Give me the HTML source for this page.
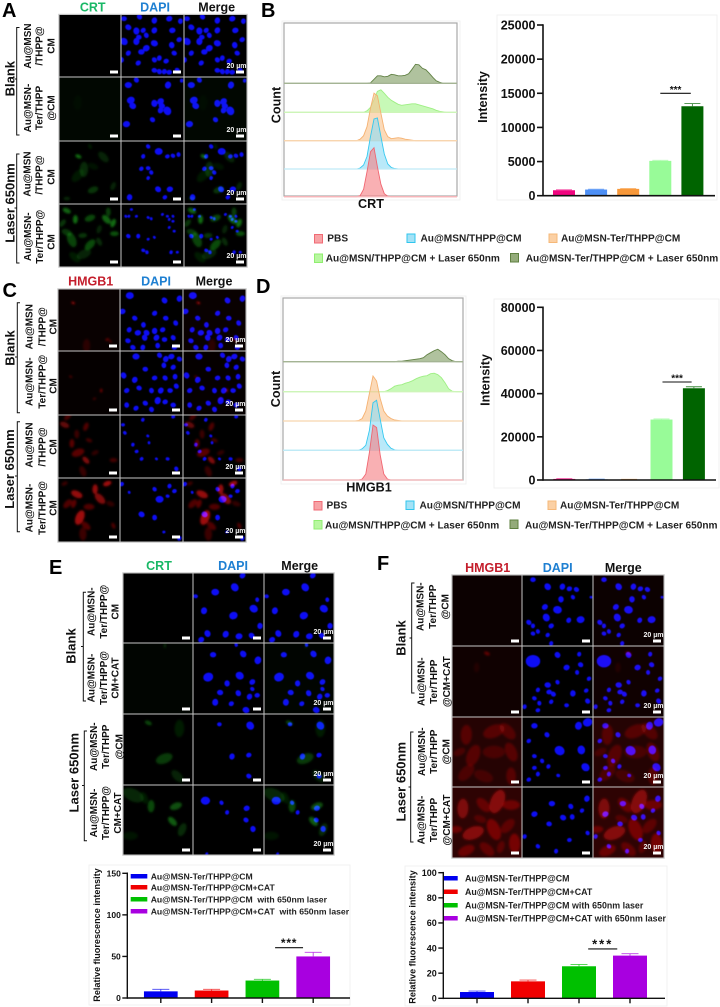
<!DOCTYPE html>
<html lang="en">
<head>
<meta charset="utf-8">
<title>Immunofluorescence and flow cytometry figure</title>
<style>
html,body{margin:0;padding:0;background:#fff;}
#figure{display:block;width:720px;height:1007px;filter:blur(0.35px);}
text{font-family:"Liberation Sans",sans-serif;font-weight:bold;fill:#111;}
.letter{font-size:20px;fill:#000;}
.head{font-size:12.5px;text-anchor:middle;}
.green{fill:#19b866;}
.blue{fill:#1f80d2;}
.red{fill:#c41e2c;}
.side{font-size:13px;text-anchor:middle;}
.row{font-size:10px;text-anchor:middle;}
.axis-title{font-size:12.6px;text-anchor:middle;}
.leg{font-size:10.1px;fill:#222;}
.leg2{font-size:8.65px;fill:#222;}
.ylab{font-size:9.1px;text-anchor:middle;}
.br{fill:none;stroke:#111;stroke-width:1;}
.box{fill:none;stroke:#f1f1f1;stroke-width:1;}
</style>
</head>
<body>
<svg id="figure" xmlns="http://www.w3.org/2000/svg" width="720" height="1007" viewBox="0 0 720 1007">
<defs>
<filter id="softNuc" x="-10%" y="-10%" width="120%" height="120%"><feGaussianBlur stdDeviation="0.6"/></filter>
<filter id="softSig" x="-20%" y="-20%" width="140%" height="140%"><feGaussianBlur stdDeviation="1.1"/></filter>
</defs>
<rect x="0" y="0" width="720" height="1007" fill="#fff"/>

<g id="micrographs"></g>
<g id="charts"></g>

<!-- panel letters -->
<text class="letter" x="2" y="17">A</text>
<text class="letter" x="261" y="17">B</text>
<text class="letter" x="2.5" y="297">C</text>
<text class="letter" x="256" y="293">D</text>
<text class="letter" x="49" y="574">E</text>
<text class="letter" x="377" y="570">F</text>

<!-- column headers -->
<text class="head green" x="92.7" y="11.7">CRT</text>
<text class="head blue" x="155" y="11.7">DAPI</text>
<text class="head" x="216.7" y="11.7">Merge</text>
<text class="head red" x="90.7" y="285.7">HMGB1</text>
<text class="head blue" x="156" y="285.7">DAPI</text>
<text class="head" x="214" y="285.7">Merge</text>
<text class="head green" x="159" y="570">CRT</text>
<text class="head blue" x="233" y="570">DAPI</text>
<text class="head" x="299.7" y="570">Merge</text>
<text class="head red" x="487.7" y="572">HMGB1</text>
<text class="head blue" x="557.7" y="572">DAPI</text>
<text class="head" x="623.3" y="572">Merge</text>

<!-- group labels and brackets -->
<text class="side" transform="translate(10 78.7) rotate(-90)" dy=".35em">Blank</text>
<text class="side" transform="translate(10 203) rotate(-90)" dy=".35em">Laser 650nm</text>
<path class="br" d="M19.5 27.5H16.7V135H19.5M16.7 79H14.5"/>
<path class="br" d="M19.5 154H16.7V263H19.5M16.7 208H14.5"/>
<text class="side" transform="translate(10 348) rotate(-90)" dy=".35em">Blank</text>
<text class="side" transform="translate(9.3 469) rotate(-90)" dy=".35em">Laser 650nm</text>
<path class="br" d="M20 302.7H17.3V412.7H20M17.3 357H15"/>
<path class="br" d="M20 421.7H17.3V531.7H20M17.3 476H15"/>
<text class="side" transform="translate(70.7 646) rotate(-90)" dy=".35em">Blank</text>
<text class="side" transform="translate(74 772.7) rotate(-90)" dy=".35em">Laser 650nm</text>
<path class="br" d="M86 592.3H83.3V701H86M83.3 646.5H81"/>
<path class="br" d="M87 731H84.3V840.7H87M84.3 785.5H82"/>
<text class="side" transform="translate(401 638) rotate(-90)" dy=".35em">Blank</text>
<text class="side" transform="translate(400.7 781.7) rotate(-90)" dy=".35em">Laser 650nm</text>
<path class="br" d="M414.5 583H411.7V693H414.5M411.7 638H409.5"/>
<path class="br" d="M413.5 732H410.7V842H413.5M410.7 787H408.5"/>

<!-- row labels panel A -->
<g>
<text class="row" transform="translate(27.3 46) rotate(-90)" dy=".35em">Au@MSN</text>
<text class="row" transform="translate(39 46) rotate(-90)" dy=".35em">/THPP@</text>
<text class="row" transform="translate(51 46) rotate(-90)" dy=".35em">CM</text></g>
<g>
<text class="row" transform="translate(27.3 108) rotate(-90)" dy=".35em">Au@MSN-</text>
<text class="row" transform="translate(39 108) rotate(-90)" dy=".35em">Ter/THPP</text>
<text class="row" transform="translate(51 108) rotate(-90)" dy=".35em">@CM</text></g>
<g>
<text class="row" transform="translate(27 174) rotate(-90)" dy=".35em">Au@MSN</text>
<text class="row" transform="translate(39 175) rotate(-90)" dy=".35em">/THPP@</text>
<text class="row" transform="translate(51 177) rotate(-90)" dy=".35em">CM</text></g>
<g>
<text class="row" transform="translate(27.3 236.7) rotate(-90)" dy=".35em">Au@MSN-</text>
<text class="row" transform="translate(39.7 236.7) rotate(-90)" dy=".35em">Ter/THPP@</text>
<text class="row" transform="translate(51 242) rotate(-90)" dy=".35em">CM</text></g>

<!-- row labels panel C -->
<g>
<text class="row" transform="translate(29 326.7) rotate(-90)" dy=".35em">Au@MSN</text>
<text class="row" transform="translate(42 326.7) rotate(-90)" dy=".35em">/THPP@</text>
<text class="row" transform="translate(53 326.7) rotate(-90)" dy=".35em">CM</text></g>
<g>
<text class="row" transform="translate(29 381.7) rotate(-90)" dy=".35em">Au@MSN-</text>
<text class="row" transform="translate(42 381.7) rotate(-90)" dy=".35em">Ter/THPP@</text>
<text class="row" transform="translate(53 386) rotate(-90)" dy=".35em">CM</text></g>
<g>
<text class="row" transform="translate(29 445) rotate(-90)" dy=".35em">Au@MSN</text>
<text class="row" transform="translate(42 447) rotate(-90)" dy=".35em">/THPP@</text>
<text class="row" transform="translate(53 447) rotate(-90)" dy=".35em">CM</text></g>
<g>
<text class="row" transform="translate(29 508) rotate(-90)" dy=".35em">Au@MSN-</text>
<text class="row" transform="translate(42 508) rotate(-90)" dy=".35em">Ter/THPP@</text>
<text class="row" transform="translate(53 508) rotate(-90)" dy=".35em">CM</text></g>

<!-- row labels panel E -->
<g>
<text class="row" transform="translate(91 611.7) rotate(-90)" dy=".35em">Au@MSN-</text>
<text class="row" transform="translate(103.3 611.7) rotate(-90)" dy=".35em">Ter/THPP@</text>
<text class="row" transform="translate(115 611.7) rotate(-90)" dy=".35em">CM</text></g>
<g>
<text class="row" transform="translate(91 678) rotate(-90)" dy=".35em">Au@MSN-</text>
<text class="row" transform="translate(103.3 678) rotate(-90)" dy=".35em">Ter/THPP@</text>
<text class="row" transform="translate(115 678) rotate(-90)" dy=".35em">CM+CAT</text></g>
<g>
<text class="row" transform="translate(93.3 746.7) rotate(-90)" dy=".35em">Au@MSN-</text>
<text class="row" transform="translate(105.7 746.7) rotate(-90)" dy=".35em">Ter/THPP</text>
<text class="row" transform="translate(119 746.7) rotate(-90)" dy=".35em">@CM</text></g>
<g>
<text class="row" transform="translate(93.3 813) rotate(-90)" dy=".35em">Au@MSN-</text>
<text class="row" transform="translate(105.7 813) rotate(-90)" dy=".35em">Ter/THPP@</text>
<text class="row" transform="translate(117.7 813) rotate(-90)" dy=".35em">CM+CAT</text></g>

<!-- row labels panel F -->
<g>
<text class="row" transform="translate(420 606.7) rotate(-90)" dy=".35em">Au@MSN-</text>
<text class="row" transform="translate(432.3 606.7) rotate(-90)" dy=".35em">Ter/THPP</text>
<text class="row" transform="translate(445 606.7) rotate(-90)" dy=".35em">@CM</text></g>
<g>
<text class="row" transform="translate(421 681.7) rotate(-90)" dy=".35em">Au@MSN-</text>
<text class="row" transform="translate(433.3 681.7) rotate(-90)" dy=".35em">Ter/THPP</text>
<text class="row" transform="translate(446.7 681.7) rotate(-90)" dy=".35em">@CM+CAT</text></g>
<g>
<text class="row" transform="translate(421.7 751.7) rotate(-90)" dy=".35em">Au@MSN-</text>
<text class="row" transform="translate(433.3 751.7) rotate(-90)" dy=".35em">Ter/THPP</text>
<text class="row" transform="translate(446 751.7) rotate(-90)" dy=".35em">@CM</text></g>
<g>
<text class="row" transform="translate(421 820) rotate(-90)" dy=".35em">Au@MSN-</text>
<text class="row" transform="translate(433.3 820) rotate(-90)" dy=".35em">Ter/THPP</text>
<text class="row" transform="translate(446.7 820) rotate(-90)" dy=".35em">@CM+CAT</text></g>

<!-- axis titles -->
<text class="axis-title" transform="translate(276 105) rotate(-90)" dy=".35em">Count</text>
<text class="axis-title" x="371" y="208">CRT</text>
<text class="axis-title" transform="translate(482.7 97) rotate(-90)" dy=".35em">Intensity</text>
<text class="axis-title" transform="translate(275.7 389) rotate(-90)" dy=".35em">Count</text>
<text class="axis-title" x="369" y="491.7">HMGB1</text>
<text class="axis-title" transform="translate(485 380) rotate(-90)" dy=".35em">Intensity</text>
<text class="ylab" transform="translate(96.7 935) rotate(-90)" dy=".35em">Relative fluorescence intensity</text>
<text class="ylab" transform="translate(412.3 937) rotate(-90)" dy=".35em">Relative fluorescence intensity</text>

<!-- legend B -->
<g>
<g><rect x="314.5" y="234.5" width="8" height="8.5" fill="#f7a3a6" stroke="#f06a74"/><text class="leg" x="327.3" y="241.7">PBS</text></g>
<g><rect x="407" y="234" width="8" height="8.5" fill="#a4e2f6" stroke="#2fc6ee"/><text class="leg" x="420.5" y="241.7">Au@MSN/THPP@CM</text></g>
<g><rect x="549" y="234" width="8" height="8.5" fill="#fbd0a4" stroke="#f6b878"/><text class="leg" x="561" y="241.7">Au@MSN-Ter/THPP@CM</text></g>
<g><rect x="314.5" y="254" width="8" height="8.5" fill="#b8f7a0" stroke="#90ee70"/><text class="leg" x="325.7" y="261.7">Au@MSN/THPP@CM + Laser 650nm</text></g>
<g><rect x="510.5" y="253.5" width="8" height="8.5" fill="#94ab7a" stroke="#5f8040"/><text class="leg" x="525.7" y="261.7">Au@MSN-Ter/THPP@CM + Laser 650nm</text></g>
</g>

<!-- legend D -->
<g>
<g><rect x="314" y="501.5" width="8" height="8.5" fill="#f7a3a6" stroke="#f06a74"/><text class="leg" x="326.5" y="508.3">PBS</text></g>
<g><rect x="406" y="501" width="8" height="8.5" fill="#a4e2f6" stroke="#2fc6ee"/><text class="leg" x="419.5" y="508.3">Au@MSN/THPP@CM</text></g>
<g><rect x="548" y="501" width="8" height="8.5" fill="#fbd0a4" stroke="#f6b878"/><text class="leg" x="560" y="508.3">Au@MSN-Ter/THPP@CM</text></g>
<g><rect x="314" y="520.5" width="8" height="8.5" fill="#b8f7a0" stroke="#90ee70"/><text class="leg" x="325" y="528.3">Au@MSN/THPP@CM + Laser 650nm</text></g>
<g><rect x="510" y="520" width="8" height="8.5" fill="#94ab7a" stroke="#5f8040"/><text class="leg" x="525" y="528.3">Au@MSN-Ter/THPP@CM + Laser 650nm</text></g>
</g>

<!-- legend E -->
<g>
<g><rect x="130.7" y="874" width="16.6" height="4.5" fill="#0000f0"/><text class="leg2" x="150.7" y="879.5">Au@MSN-Ter/THPP@CM</text></g>
<g><rect x="130.7" y="885" width="16.6" height="4.5" fill="#f00000"/><text class="leg2" x="150.7" y="890.5">Au@MSN-Ter/THPP@CM+CAT</text></g>
<g><rect x="130.7" y="897" width="16.6" height="4.5" fill="#00c000"/><text class="leg2" x="150.7" y="902.5" xml:space="preserve">Au@MSN-Ter/THPP@CM  with 650nm laser</text></g>
<g><rect x="130.7" y="909" width="16.6" height="4.5" fill="#a800e0"/><text class="leg2" x="150.7" y="914.5" xml:space="preserve">Au@MSN-Ter/THPP@CM+CAT  with 650nm laser</text></g>
</g>

<!-- legend F -->
<g>
<g><rect x="444" y="876" width="13.7" height="4.5" fill="#0000f0"/><text class="leg2" style="font-size:8.85px" x="465" y="881.5">Au@MSN-Ter/THPP@CM</text></g>
<g><rect x="444" y="889.5" width="13.7" height="4.5" fill="#f00000"/><text class="leg2" style="font-size:8.85px" x="465" y="895">Au@MSN-Ter/THPP@CM+CAT</text></g>
<g><rect x="444" y="903" width="13.7" height="4.5" fill="#00c000"/><text class="leg2" style="font-size:8.85px" x="465" y="908.5">Au@MSN-Ter/THPP@CM with 650nm laser</text></g>
<g><rect x="444" y="916" width="13.7" height="4.5" fill="#a800e0"/><text class="leg2" style="font-size:8.85px" x="465" y="921.5">Au@MSN-Ter/THPP@CM+CAT with 650nm laser</text></g>
</g>
</svg>

<script>
/* ---------- flow cytometry histograms: bins along the fluorescence axis (% of axis) ---------- */
const histBins = [40,42,44,46,48,50,52,54,56,58,60,62,64,66,68,70,72,74,76,78,80,82,84,86,88,90,92,94,96,98];
const histSeriesNames = ['pbs','au-msn','au-msn-ter','au-msn-laser','au-msn-ter-laser'];

const crtPbs      = [0,0,2,15,50,90,98,60,25,6,1,0,0,0,0,0,0,0,0,0,0,0,0,0,0,0,0,0,0,0];
const crtAuMsn    = [0,0,2,8,25,65,100,102,65,30,10,3,1,0,0,0,0,0,0,0,0,0,0,0,0,0,0,0,0,0];
const crtAuTer    = [0,0,3,10,28,65,95,90,55,22,8,4,5,6,5,3,2,1,0,0,0,0,0,0,0,0,0,0,0,0];
const crtAuLaser  = [0,0,0,0,3,10,25,42,45,38,30,24,20,16,14,15,16,17,17,15,13,11,9,7,4,2,1,0,0,0];
const crtTerLaser = [0,0,0,0,0,1,8,15,15,13,14,18,17,15,15,16,19,28,38,37,30,27,20,12,5,2,0,0,0,0];

const hmgbPbs      = [0,0,2,12,55,110,105,50,12,2,0,0,0,0,0,0,0,0,0,0,0,0,0,0,0,0,0,0,0,0];
const hmgbAuMsn    = [0,0,3,10,40,95,100,62,25,12,4,1,0,0,0,0,0,0,0,0,0,0,0,0,0,0,0,0,0,0];
const hmgbAuTer    = [0,1,5,20,55,90,80,45,20,10,5,2,1,0,0,0,0,0,0,0,0,0,0,0,0,0,0,0,0,0];
const hmgbAuLaser  = [0,0,0,0,0,0,0,0,0,2,6,11,13,14,17,19,22,26,29,31,32,36,37,34,28,18,6,1,0,0];
const hmgbTerLaser = [0,0,0,0,0,0,0,0,0,0,0,0,1,1,2,3,4,5,6,8,14,18,22,25,20,14,6,2,0,0];

/* ---------- bar charts ---------- */
const fiveGroups = ['PBS','Au@MSN/THPP@CM','Au@MSN-Ter/THPP@CM','Au@MSN/THPP@CM + Laser 650nm','Au@MSN-Ter/THPP@CM + Laser 650nm'];
const fourGroups = ['Au@MSN-Ter/THPP@CM','Au@MSN-Ter/THPP@CM+CAT','Au@MSN-Ter/THPP@CM with 650nm laser','Au@MSN-Ter/THPP@CM+CAT with 650nm laser'];

const bValues = [800,900,1000,5100,13100];
const bErrors = [60,60,50,80,400];
const bTicks  = [0,5000,10000,15000,20000,25000];
const bSig    = 15000;

const dValues = [500,300,200,28000,42500];
const dErrors = [100,100,100,300,700];
const dTicks  = [0,20000,40000,60000,80000];
const dSig    = 45400;

const eValues = [8,9,21,50];
const eErrors = [2.5,1.5,1.5,5];
const eTicks  = [0,50,100,150];
const eSig    = 60.5;

const fValues = [5,13.5,25.5,34];
const fErrors = [0.8,1,1.5,1.5];
const fTicks  = [0,20,40,60,80,100];
const fSig    = 39.3;

const flowColors = ['#f0047f','#4d8ff5','#f7983a','#98fb98','#006400'];
const fourColors = ['#0000f0','#f00000','#00c000','#a800e0'];

/* ---------- micrograph content: x,y,r in % of the cell width; signal adds opacity; r>=60 is a full-cell wash ---------- */
const scaleLabel = '20 µm';
const aNuclei = [
 '4,6,3.6 29,3,3.6 53,9,4 77,6,4 11,20,4 24,26,4.5 35,25,3.5 28,36,3.5 40,33,3.5 53,25,4 82,25,4 4,43,5 24,43,4.5 40,54,4.5 53,46,4.5 81,49,4 11,62,3.5 32,60,4 53,73,3.5 61,70,3.5 72,75,3.5 85,62,3.5 0,73,3.5 27,78,3.5 53,90,3.5 61,92,3.5 69,92,3.5 77,93,3.5 90,90,3.5 95,10,3.5 93,40,3.5',
 '11,12,4.5 24,4,3.5 75,12,4.5 15,36,5 18,45,4.5 53,41,4.5 63,38,4.5 65,45,4 74,53,5.5 63,52,4 8,74,4.5 50,67,3.5 97,5,2.5',
 '60,16,5 43,8,3 35,24,3 74,24,3 83,23,3 92,21,3 32,44,3 43,43,3 48,50,3 43,59,2.5 78,77,4 59,77,4 13,90,4 70,90,3',
 '16,8,2 7,19,2 12,19,2 24,19,2 43,21,2 48,23,2 66,16,2 74,19,2 83,19,2 77,24,2 83,27,2 11,51,3 27,51,3 43,56,2 35,74,2.5 41,77,2.5 77,37,2 85,43,2 53,53,2 80,77,2.5 90,77,2'
];
const aSignal = [
 '',
 '50,50,60,.03 30,40,14,.03',
 '31,24,6,.6 40,45,14,.24 55,78,10,.3 72,25,12,.2 88,72,8,.2 12,92,6,.22 50,8,5,.16 30,55,14,.14 55,40,10,.1',
 '12,10,8,.55 26,24,8,.6 50,22,10,.4 77,24,10,.55 88,30,8,.6 90,47,8,.45 20,57,14,.38 50,65,12,.42 12,45,10,.3 80,12,8,.35 40,80,14,.2 25,85,12,.15 65,40,8,.2 38,50,8,.3 65,60,8,.25 5,30,8,.3'
];
const cNuclei = [
 '15,10,5 71,18,4 95,15,4 3,36,4 23,47,3.5 37,58,3.5 55,39,3.5 73,47,3.5 89,55,3.5 14,66,3.5 28,71,4 42,71,4 55,68,4 68,66,3.5 12,84,3.5 39,79,4 58,79,4 71,82,3.5 85,79,3.5 36,95,3.5 87,95,3.5 20,95,3.5 60,92,3.5',
 '25,8,4.5 63,6,3.5 73,12,4 82,8,4 95,12,3.5 70,22,3.5 85,25,3.5 40,28,3.5 5,38,4 23,45,4 55,42,3.5 72,42,3.5 88,40,3.5 10,62,3.5 30,58,3.5 50,62,3.5 65,62,4 80,62,3.5 90,55,3.5 60,78,4.5 72,80,3.5 40,82,3.5 10,85,3.5 25,90,3.5 85,85,3.5 50,92,3.5',
 '4,15,2.5 7,28,2.5 20,47,2.5 26,58,2.5 44,33,2 46,44,2 34,70,2.5 76,70,2.5 90,86,3 36,7,2.5 85,2,2.5 58,70,2',
 '63,33,5 55,17,3 79,12,3 87,20,3 34,57,4 55,62,3.5 2,9,3 76,28,2.5 14,22,2 95,95,3 70,85,2'
];
const cSignal = [
 '24,22,3.5,.8 46,92,12,.18 80,82,3.5,.55 85,85,3,.45 50,50,60,.04',
 '20,40,3,.45 70,62,3.5,.65 59,75,3,.4 50,50,60,.025',
 '10,15,9,.5 22,45,8,.45 32,60,12,.45 45,72,8,.65 45,18,8,.4 90,72,7,.35 40,90,10,.28 15,2,8,.35 50,40,6,.35 30,30,8,.3 60,60,7,.25',
 '30,25,11,.75 60,17,9,.75 80,8,8,.8 68,32,12,.65 35,62,14,.8 50,45,10,.4 90,75,6,.4 15,40,10,.4 85,40,8,.25 40,88,12,.3 10,8,6,.3 45,75,10,.4 25,40,8,.45'
];
const eNuclei = [
 '31,27,5 59,20,5.5 15,54,4.5 57,61,5.5 86,51,5.5 91,38,3 70,3,4 3,33,3 20,87,4.5 46,88,4.5 65,91,4.5 83,90,4 95,76,4 11,96,4',
 '28,16,4 71,15,4.5 92,24,5 21,48,6.5 66,46,5.5 48,57,4 84,55,4 38,70,4 64,71,4 80,76,4 91,74,3.5 84,65,3 31,84,4.5 54,86,3.5 75,95,4.5 61,2,2.5',
 '37,14,3 81,16,5.5 55,60,4 79,58,3.5 79,88,3.5',
 '17,22,6 40,25,3 48,39,3 76,33,4 75,50,3.5 85,63,4 19,99,2'
];
const eSignal = [
 '',
 '50,50,60,.025 60,3,4,.2',
 '36,12,6,.4 81,20,14,.16 59,63,14,.34 78,88,12,.2',
 '14,14,18,.22 40,30,10,.42 76,30,10,.46 71,52,9,.52 85,64,11,.25 10,73,12,.12 30,18,10,.15'
];
const fNuclei = [
 '15,6,3.5 36,16,4.5 57,16,4 67,19,3.5 77,20,3.5 55,34,4 32,45,4 50,49,5.5 34,60,5 66,64,3.5 83,63,5 9,67,3.5 15,72,3 41,72,3.5 15,83,3 22,80,3 36,85,3 98,31,2 72,31,3 41,97,3',
 '15,21,9 50,12,4 81,11,3 63,30,4 83,26,3.5 78,37,3 95,46,3 36,55,4 50,51,3 22,62,3 38,65,3.5 44,68,3.5 72,67,4 91,63,3 17,74,3 24,81,3 41,79,3 63,84,3 93,78,3.5 3,86,3 22,91,3',
 '17,12,4 35,25,3.5 80,12,5 93,7,6 53,48,6.5 84,47,5.5 9,34,3 17,56,3 28,63,3 37,71,3 17,73,3 90,72,5.5 22,82,3 9,90,3 51,84,2.5',
 '42,23,4 69,27,3.5 92,16,4 17,38,4 58,43,4 71,42,3.5 85,33,3 38,52,3.5 93,65,3 3,70,3 67,75,3 22,84,3 48,91,3'
];
const fSignal = [
 '50,50,60,.05',
 '50,10,5,.45 35,30,8,.1 50,50,60,.07',
 '50,50,60,.16 20,25,16,.3 60,20,18,.3 80,20,16,.28 30,55,18,.3 60,50,18,.22 85,50,16,.3 20,80,16,.24 45,85,16,.2 85,85,14,.3 10,50,10,.22',
 '50,50,60,.2 15,30,16,.5 30,65,18,.55 45,25,14,.35 65,20,20,.55 85,25,14,.4 60,60,18,.45 80,55,14,.3 40,45,10,.25 90,80,16,.45 20,90,14,.38 50,88,14,.32 70,85,10,.28 5,60,10,.38'
];

/* ---------- helpers ---------- */
const NS = 'http://www.w3.org/2000/svg';
function make(tag, parent, props) {
  const el = document.createElementNS(NS, tag);
  for (const k in props) el.setAttribute(k, props[k]);
  parent.appendChild(el);
  return el;
}
function label(el, name) {
  
  
  return el;
}
function linear(d0, d1, r0, r1) {
  return function (v) { return r0 + (v - d0) / (d1 - d0) * (r1 - r0); };
}
function parseBlobs(str) {
  return str.trim() ? str.trim().split(/\s+/).map(function (s) { return s.split(',').map(Number); }) : [];
}

/* ---------- micrographs ---------- */
let clipCount = 0;
function drawNuclei(parent, blobs, w, h, scale) {
  const g = label(make('g', parent, { filter: 'url(#softNuc)', style: 'mix-blend-mode:screen' }), 'nuclei');
  blobs.forEach(function (b, i) {
    const rx = b[2] / 100 * w * scale;
    const cx = b[0] / 100 * w, cy = b[1] / 100 * h;
    const n = make('ellipse', g, {
      cx: cx, cy: cy, rx: rx, ry: rx * 0.86,
      transform: 'rotate(' + ((i * 53) % 180) + ' ' + cx + ' ' + cy + ')',
      fill: '#0a0cf5'
    });
    label(n, 'nucleus');
  });
}
function drawSignal(parent, blobs, color, w, h) {
  const g = label(make('g', parent, { style: 'mix-blend-mode:screen' }), 'signal-staining');
  blobs.forEach(function (b) {
    if (b[2] >= 60) {
      label(make('rect', g, { x: 0, y: 0, width: w, height: h, fill: color, opacity: b[3] }), 'signal-wash');
    }
  });
  const soft = label(make('g', g, { filter: 'url(#softSig)' }), 'signal-cells');
  blobs.forEach(function (b, i) {
    if (b[2] >= 60) return;
    const cx = b[0] / 100 * w, cy = b[1] / 100 * h, r = b[2] / 100 * w;
    const c = make('ellipse', soft, {
      cx: cx, cy: cy, rx: r * 0.9, ry: r * 0.5,
      transform: 'rotate(' + ((i * 67 + 25) % 180) + ' ' + cx + ' ' + cy + ')',
      fill: color, opacity: b[3] * 0.85
    });
    label(c, 'stained-cell');
  });
}
function drawPanel(id, gridX, gridY, nuclei, signal, sigColor, nucScale) {
  const root = document.getElementById('micrographs');
  const panel = label(make('g', root, {}), id + '-micrograph-grid');
  label(make('rect', panel, {
    x: gridX[0] - 0.7, y: gridY[0] - 0.7,
    width: gridX[3] - gridX[0] + 1.4, height: gridY[4] - gridY[0] + 1.4,
    fill: '#c6c6c6'
  }), id + '-grid-lines');
  const cols = ['signal', 'dapi', 'merge'];
  for (let r = 0; r < 4; r++) {
    for (let c = 0; c < 3; c++) {
      const x = gridX[c] + 0.5, y = gridY[r] + 0.5;
      const w = gridX[c + 1] - gridX[c] - 1, h = gridY[r + 1] - gridY[r] - 1;
      const cid = 'cellclip' + (clipCount++);
      const cp = make('clipPath', panel, { id: cid });
      make('rect', cp, { x: 0, y: 0, width: w, height: h });
      const cell = label(make('g', panel, { transform: 'translate(' + x + ' ' + y + ')', 'clip-path': 'url(#' + cid + ')', style: 'isolation:isolate' }), id + '-cell-r' + (r + 1) + '-' + cols[c]);
      label(make('rect', cell, { x: 0, y: 0, width: w, height: h, fill: '#000' }), 'cell-background');
      if (c !== 1) drawSignal(cell, parseBlobs(signal[r]), sigColor, w, h);
      if (c !== 0) drawNuclei(cell, parseBlobs(nuclei[r]), w, h, nucScale);
      label(make('rect', cell, { x: w - 10.5, y: h - 6, width: 8, height: 3, fill: '#fff' }), 'scale-bar');
      if (c === 2) {
        const t = label(make('text', cell, { x: w, y: h - 8.5, 'text-anchor': 'end', style: 'font-size:7px;fill:#f4f4f4' }), 'scale-label');
        t.textContent = scaleLabel;
      }
    }
  }
}
drawPanel('a', [59,121,184,247], [14.5,77,141,204,267], aNuclei, aSignal, '#20d020', 1.3);
drawPanel('c', [58,120,183,246], [289,351,415,478,542], cNuclei, cSignal, '#e81010', 1.3);
drawPanel('e', [123,193,264,334], [573,643,714,785,855], eNuclei, eSignal, '#20c820', 1.12);
drawPanel('f', [452,522,593,664], [575,646,717,787,858], fNuclei, fSignal, '#e81010', 1.15);

/* ---------- histograms ---------- */
const histFill   = ['#f57f85','#8edcf5','#f9c48e','#a4f58a','#7f9c62'];
const histStroke = ['#f0606c','#2cc6ef','#f4ae6c','#9bee80','#5c7c3e'];
const histBase   = ['#f6b4b8','#bfeaf6','#f8d5ae','#cdf5b8','#a4b494'];

function drawHistogram(name, frame, box, baselines, series) {
  const root = document.getElementById('charts');
  const g = label(make('g', root, {}), name);
  label(make('rect', g, { x: box[0], y: box[1], width: box[2] - box[0], height: box[3] - box[1], class: 'box' }), name + '-outer-box');
  label(make('rect', g, { x: frame.x, y: frame.y, width: frame.w, height: frame.h, fill: '#fff', stroke: '#a8a8a8', 'stroke-width': 1.2 }), name + '-frame');
  const xScale = linear(0, 100, frame.x, frame.x + frame.w);
  for (let i = series.length - 1; i >= 0; i--) {
    const yScale = linear(0, 100, baselines[i], baselines[i] - 50);
    let d = 'M' + frame.x + ' ' + baselines[i];
    histBins.forEach(function (b, j) {
      d += 'L' + xScale(b).toFixed(1) + ' ' + yScale(series[i][j]).toFixed(1);
    });
    d += 'L' + (frame.x + frame.w) + ' ' + baselines[i];
    const fillEl = make('path', g, { d: d + 'Z', fill: histFill[i], 'fill-opacity': 0.62, stroke: 'none' });
    label(fillEl, name + '-area-' + histSeriesNames[i]);
    const lineEl = make('path', g, { d: d, fill: 'none', stroke: histStroke[i], 'stroke-width': 0.9, 'stroke-opacity': 0.95 });
    label(lineEl, name + '-curve-' + histSeriesNames[i]);
    const baseEl = make('line', g, { x1: frame.x, x2: frame.x + frame.w, y1: baselines[i], y2: baselines[i], stroke: histBase[i], 'stroke-width': 1.3 });
    label(baseEl, name + '-baseline-' + histSeriesNames[i]);
  }
}
drawHistogram('crt-histogram', { x: 284, y: 23, w: 173, h: 173 }, [282, 21, 460, 200],
  [196.7, 169, 140.7, 112.3, 83.3], [crtPbs, crtAuMsn, crtAuTer, crtAuLaser, crtTerLaser]);
drawHistogram('hmgb1-histogram', { x: 283, y: 298, w: 180, h: 182 }, [281, 296, 466, 484],
  [480, 450.3, 421, 391.7, 361.7], [hmgbPbs, hmgbAuMsn, hmgbAuTer, hmgbAuLaser, hmgbTerLaser]);

/* ---------- bar charts ---------- */
function drawBars(cfg) {
  const root = document.getElementById('charts');
  const g = label(make('g', root, {}), cfg.name);
  label(make('rect', g, { x: cfg.box[0], y: cfg.box[1], width: cfg.box[2] - cfg.box[0], height: cfg.box[3] - cfg.box[1], class: 'box' }), cfg.name + '-outer-box');
  const yScale = linear(0, cfg.max, cfg.y0, cfg.yTop);
  const xCenter = linear(0, 1, cfg.first, cfg.first + cfg.step);

  cfg.values.forEach(function (v, i) {
    const cx = xCenter(i), top = yScale(v), errTop = yScale(v + cfg.errors[i]);
    const errEl = make('path', g, {
      d: 'M' + cx + ' ' + top + 'V' + errTop + 'M' + (cx - cfg.cap) + ' ' + errTop + 'H' + (cx + cfg.cap),
      fill: 'none', stroke: cfg.colors[i], 'stroke-width': 0.9, 'stroke-opacity': 0.75
    });
    label(errEl, cfg.name + '-error-' + (i + 1));
    const bar = make('rect', g, { x: cx - cfg.width / 2, y: top, width: cfg.width, height: Math.max(cfg.y0 - top, 0), fill: cfg.colors[i] });
    
    
    bar.setAttribute('data-category', cfg.categories[i]);
    if (cfg.catTicks) {
      label(make('line', g, { x1: cx, x2: cx, y1: cfg.y0, y2: cfg.y0 + 5, stroke: '#111', 'stroke-width': 1.4 }), cfg.name + '-x-tick-' + (i + 1));
    }
  });

  label(make('line', g, { x1: cfg.axisX, x2: cfg.axisX, y1: cfg.yTop - 0.8, y2: cfg.y0 + 0.8, stroke: '#111', 'stroke-width': cfg.axisW }), cfg.name + '-y-axis');
  label(make('line', g, { x1: cfg.axisX, x2: cfg.axisEnd, y1: cfg.y0, y2: cfg.y0, stroke: '#111', 'stroke-width': cfg.axisW }), cfg.name + '-x-axis');
  cfg.ticks.forEach(function (t) {
    const y = yScale(t);
    label(make('line', g, { x1: cfg.axisX - cfg.tickLen, x2: cfg.axisX, y1: y, y2: y, stroke: '#111', 'stroke-width': cfg.axisW }), cfg.name + '-y-tick-' + t);
    const txt = label(make('text', g, { x: cfg.axisX - cfg.tickLen - 1.5, y: y, dy: '.36em', 'text-anchor': 'end', style: 'font-size:' + cfg.font + 'px' }), cfg.name + '-y-label-' + t);
    txt.textContent = t;
  });

  const sigY = yScale(cfg.sig);
  const x1 = xCenter(cfg.sigFrom), x2 = xCenter(cfg.sigTo);
  label(make('line', g, { x1: x1, x2: x2, y1: sigY, y2: sigY, stroke: '#111', 'stroke-width': 1.1 }), cfg.name + '-significance-line');
  const star = label(make('text', g, { x: (x1 + x2) / 2, y: sigY - 0.5, 'text-anchor': 'middle', style: 'font-size:' + cfg.starSize + 'px;letter-spacing:' + cfg.starGap + 'px' }), cfg.name + '-significance-stars');
  star.textContent = '***';
}
drawBars({ name: 'b-intensity-bars', box: [497, 15, 717, 200], categories: fiveGroups, values: bValues, errors: bErrors, colors: flowColors, ticks: bTicks, sig: bSig, max: 25000, y0: 195.7, yTop: 25, first: 564, step: 32.1, width: 22, cap: 8, axisX: 543, axisEnd: 715, axisW: 1.6, tickLen: 6, font: 12.5, catTicks: false, sigFrom: 3, sigTo: 3.95, starSize: 10, starGap: 0 });
drawBars({ name: 'd-intensity-bars', box: [494, 299, 719, 488], categories: fiveGroups, values: dValues, errors: dErrors, colors: flowColors, ticks: dTicks, sig: dSig, max: 80000, y0: 480, yTop: 307.3, first: 564.3, step: 32.4, width: 22, cap: 8, axisX: 543, axisEnd: 716, axisW: 1.6, tickLen: 6, font: 12.5, catTicks: false, sigFrom: 3.03, sigTo: 3.93, starSize: 10, starGap: 0 });
drawBars({ name: 'e-fluorescence-bars', box: [89, 865, 350, 1005], categories: fourGroups, values: eValues, errors: eErrors, colors: fourColors, ticks: eTicks, sig: eSig, max: 150, y0: 998, yTop: 873.3, first: 160.8, step: 50.8, width: 33.7, cap: 8.5, axisX: 127.3, axisEnd: 350, axisW: 1.4, tickLen: 5, font: 8.5, catTicks: true, sigFrom: 2.25, sigTo: 2.8, starSize: 12, starGap: 0.8 });
drawBars({ name: 'f-fluorescence-bars', box: [405, 866, 667, 1006], categories: fourGroups, values: fValues, errors: fErrors, colors: fourColors, ticks: fTicks, sig: fSig, max: 100, y0: 998.3, yTop: 872.7, first: 477, step: 51, width: 34, cap: 8.5, axisX: 443.3, axisEnd: 665, axisW: 1.4, tickLen: 5, font: 9, catTicks: true, sigFrom: 2.18, sigTo: 2.75, starSize: 13, starGap: 2 });
</script>
</body>
</html>
